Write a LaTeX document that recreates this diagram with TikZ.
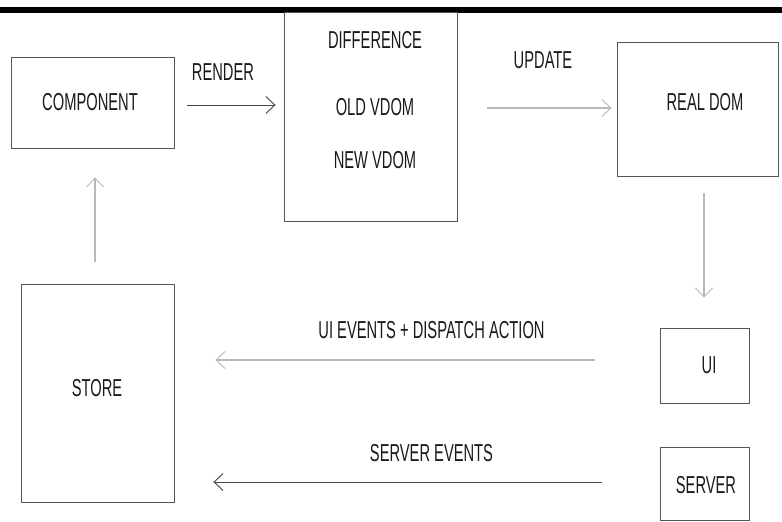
\documentclass[tikz,border=0pt]{standalone}
\usepackage{fontspec}
\newfontfamily\condfont[FakeStretch=0.6]{Liberation Sans}
\usetikzlibrary{arrows.meta,calc}
\definecolor{boxline}{HTML}{555555}
\definecolor{darkarrow}{HTML}{444444}
\definecolor{lightarrow}{HTML}{B8B8B8}
\definecolor{txt}{HTML}{1A1A1A}
\tikzset{
  boxnode/.style={draw=boxline,line width=0.9pt,rectangle,inner sep=0pt},
  lbl/.style={inner sep=0pt,text=txt,font=\condfont\fontsize{24.5}{27}\selectfont},
  tip/.style={-{Straight Barb[length=9pt,width=17pt,line width=0.9pt]}},
  arrdark/.style={tip,draw=darkarrow,line width=1pt},
  arrlight/.style={tip,draw=lightarrow,line width=1.4pt},
}
\begin{document}
\begin{tikzpicture}[x=1pt,y=-1pt]
\useasboundingbox (0,0) rectangle (782,522);
\fill[black] (0,7) rectangle (782,12.5);
% boxes
\node[boxnode,minimum width=163pt,minimum height=91pt] (comp) at (92.5,102.5) {};
\node[boxnode,minimum width=173pt,minimum height=209pt] (diff) at (370.5,116.5) {};
\node[boxnode,minimum width=161pt,minimum height=134pt] (realdom) at (697.5,109) {};
\node[boxnode,minimum width=89pt,minimum height=75pt] (ui) at (704.5,365.5) {};
\node[boxnode,minimum width=89pt,minimum height=73pt] (server) at (704.5,483.5) {};
\node[boxnode,minimum width=153pt,minimum height=218pt] (store) at (97.5,393) {};
% box texts
\node[lbl] (tcomp) at (90,102) {COMPONENT};
\node[lbl] (tdiff) at (375,40) {DIFFERENCE};
\node[lbl] (told) at (375,107) {OLD VDOM};
\node[lbl] (tnew) at (375,160) {NEW VDOM};
\node[lbl] (treal) at (705,102) {REAL DOM};
\node[lbl] (tui) at (709,365) {UI};
\node[lbl] (tserver) at (706,485) {SERVER};
\node[lbl] (tstore) at (97,388) {STORE};
% edge labels
\node[lbl] (lrender) at (223,72) {RENDER};
\node[lbl] (lupdate) at (543,60) {UPDATE};
\node[lbl] (luiev) at (431.5,330) {UI EVENTS + DISPATCH ACTION};
\node[lbl] (lsrvev) at (431.5,453) {SERVER EVENTS};
% connectors
\draw[arrdark] ($(comp.east)+(13,2.5)$) -- ($(diff.west)+(-8,-11.5)$);
\draw[arrlight] ($(diff.east)+(30,-8.5)$) -- ($(realdom.west)+(-5,-1)$);
\draw[arrlight] ($(realdom.south)+(6.5,17)$) -- ($(ui.north)+(-0.5,-30)$);
\draw[arrlight] ($(ui.west)+(-65,-5.5)$) -- ($(store.east)+(41,-33)$);
\draw[arrdark] ($(server.west)+(-58,-1.5)$) -- ($(store.east)+(39,89)$);
\draw[arrlight] ($(store.north)+(-2.5,-22)$) -- ($(comp.south)+(2.5,29)$);
\end{tikzpicture}
\end{document}
